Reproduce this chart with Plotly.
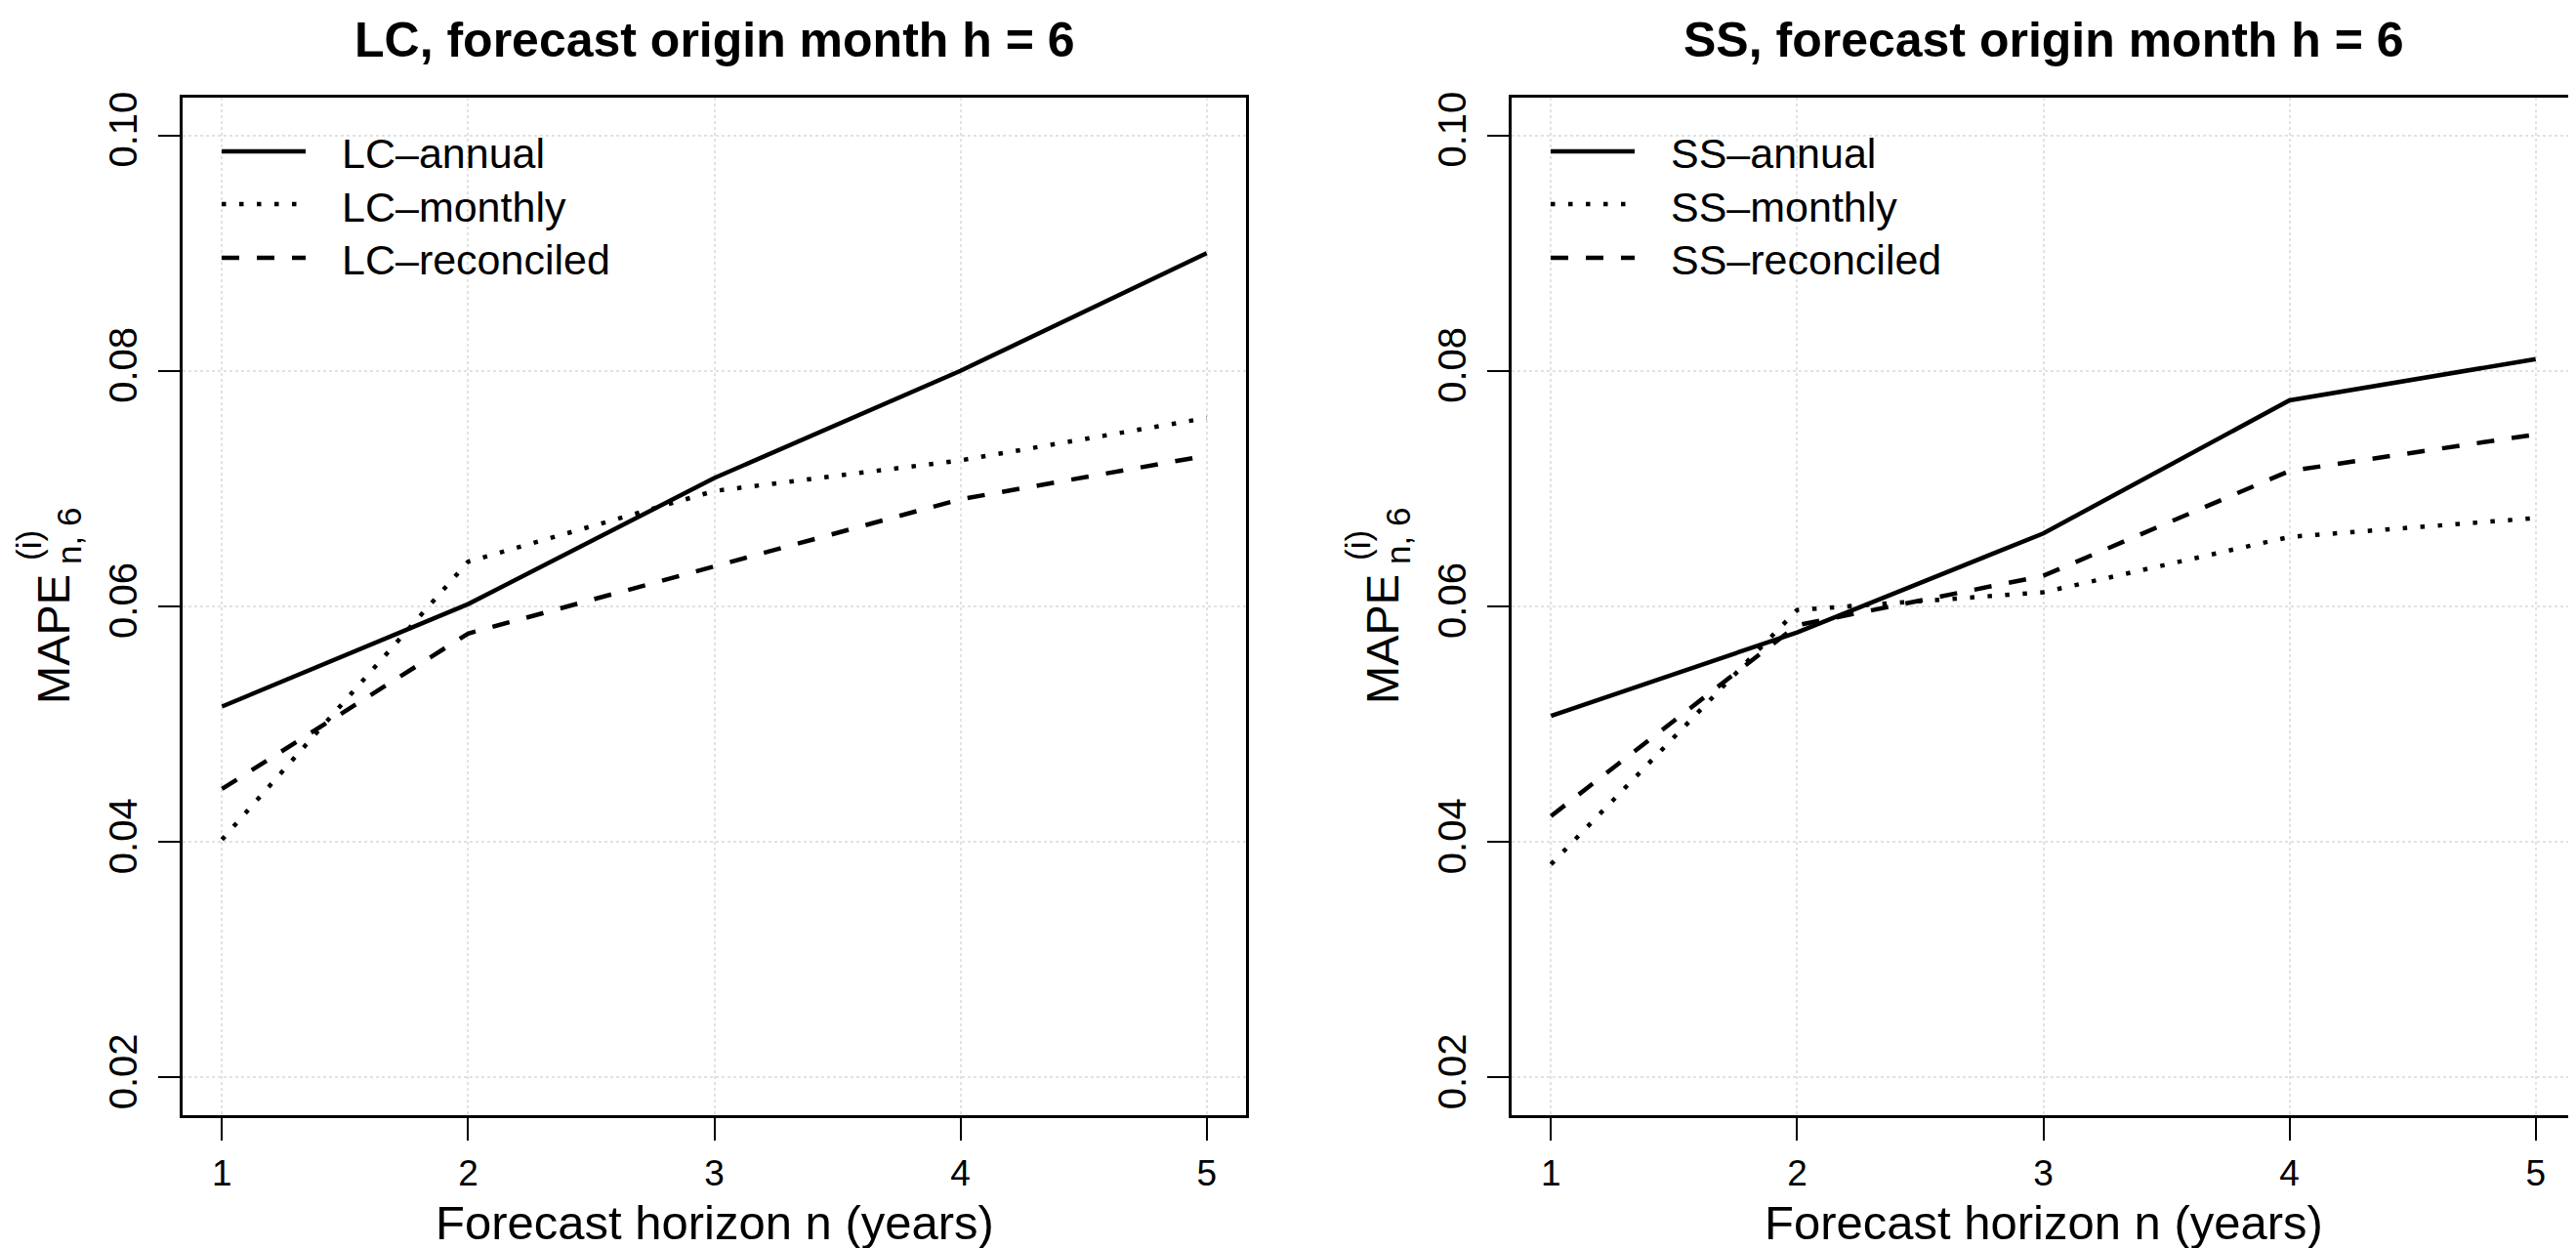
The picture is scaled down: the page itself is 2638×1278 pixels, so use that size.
import plotly.graph_objects as go

# ---------------- data ----------------
horizon = [1, 2, 3, 4, 5]

lc_annual = [0.0515, 0.0602, 0.0709, 0.0800, 0.0900]
lc_monthly = [0.0402, 0.0638, 0.0698, 0.0724, 0.0760]
lc_reconciled = [0.0445, 0.0577, 0.0634, 0.0691, 0.0728]

ss_annual = [0.0507, 0.0578, 0.0662, 0.0775, 0.0810]
ss_monthly = [0.0381, 0.0597, 0.0612, 0.0659, 0.0675]
ss_reconciled = [0.0422, 0.0584, 0.0626, 0.0715, 0.0746]

lc_names = ["LC\u2013annual", "LC\u2013monthly", "LC\u2013reconciled"]
ss_names = ["SS\u2013annual", "SS\u2013monthly", "SS\u2013reconciled"]
panel_titles = ["LC, forecast origin month h = 6", "SS, forecast origin month h = 6"]
x_title = "Forecast horizon n (years)"
y_title_main = "MAPE"
y_title_sup = "(i)"
y_title_sub = "n, 6"
x_ticks = [1, 2, 3, 4, 5]
y_ticks = [0.02, 0.04, 0.06, 0.08, 0.10]

# ---------------- layout helpers ----------------
W, H = 2638, 1278
FONT = "Liberation Sans, Arial, Helvetica, sans-serif"


def px(x):
    return x / W


def py(y):
    return 1 - y / H


dashes = ["solid", "4.5px,13.5px", "18px,18px"]
LW = 4.5

panels = [
    dict(names=lc_names, series=[lc_annual, lc_monthly, lc_reconciled], left=179, right=1268, xa="x", ya="y"),
    dict(names=ss_names, series=[ss_annual, ss_monthly, ss_reconciled], left=1540, right=2629, xa="x2", ya="y2"),
]
TOP, BOTTOM = 92, 1134

fig = go.Figure()
for p in panels:
    for name, vals, dash in zip(p["names"], p["series"], dashes):
        fig.add_trace(go.Scatter(
            x=horizon, y=vals, mode="lines", name=name,
            line=dict(color="black", width=LW, dash=dash),
            xaxis=p["xa"], yaxis=p["ya"], showlegend=False,
            hoverinfo="skip",
        ))

axis_common = dict(
    showline=True, linecolor="black", linewidth=2.5, mirror=True,
    ticks="outside", tickwidth=2, tickcolor="black",
    showgrid=True, gridcolor="#e2e2e2", griddash="dot", gridwidth=1.5,
    zeroline=False, color="black",
)

layout_axes = {}
for i, p in enumerate(panels):
    sfx = "" if i == 0 else "2"
    layout_axes["xaxis" + sfx] = dict(
        axis_common,
        domain=[px(p["left"]), px(p["right"])],
        range=[0.84, 5.16], tickvals=x_ticks, ticklen=23,
        tickfont=dict(family=FONT, size=37, color="black"),
        anchor="y" + sfx, ticklabelstandoff=2,
    )
    layout_axes["yaxis" + sfx] = dict(
        axis_common,
        domain=[py(BOTTOM), py(TOP)],
        range=[0.0168, 0.1032], tickvals=y_ticks, tickformat=".2f",
        tickangle=-90, ticklen=22,
        tickfont=dict(family=FONT, size=40, color="black"),
        anchor="x" + sfx, ticklabelstandoff=6,
    )

annotations = []
shapes = []
legend_rows = [147, 201, 256]
legend_text_y = [149, 204, 258]
for i, p in enumerate(panels):
    off = p["left"] - 179
    cx = (p["left"] + p["right"]) / 2
    # panel title
    annotations.append(dict(
        text="<b>" + panel_titles[i] + "</b>", x=px(cx), y=py(33),
        xref="paper", yref="paper", xanchor="center", yanchor="middle",
        showarrow=False, font=dict(family=FONT, size=50, color="black"),
    ))
    # x axis title
    annotations.append(dict(
        text=x_title, x=px(cx), y=py(1244),
        xref="paper", yref="paper", xanchor="center", yanchor="middle",
        showarrow=False, font=dict(family=FONT, size=49, color="black"),
    ))
    # y axis title (stacked super/subscript)
    annotations.append(dict(
        text=y_title_main, x=px(46 + off), y=py(647), textangle=-90,
        xref="paper", yref="paper", xanchor="center", yanchor="middle",
        showarrow=False, font=dict(family=FONT, size=47, color="black"),
    ))
    annotations.append(dict(
        text=y_title_sup, x=px(21 + off), y=py(551), textangle=-90,
        xref="paper", yref="paper", xanchor="center", yanchor="middle",
        showarrow=False, font=dict(family=FONT, size=35, color="black"),
    ))
    annotations.append(dict(
        text=y_title_sub, x=px(62 + off), y=py(541), textangle=-90,
        xref="paper", yref="paper", xanchor="center", yanchor="middle",
        showarrow=False, font=dict(family=FONT, size=35, color="black"),
    ))
    # legend
    for name, dash, ry, ty in zip(p["names"], dashes, legend_rows, legend_text_y):
        shapes.append(dict(
            type="line", xref="paper", yref="paper",
            x0=px(219 + off), x1=px(305 + off), y0=py(ry), y1=py(ry),
            line=dict(color="black", width=LW, dash=dash),
        ))
        annotations.append(dict(
            text=name, x=px(340 + off), y=py(ty),
            xref="paper", yref="paper", xanchor="left", yanchor="middle",
            showarrow=False, font=dict(family=FONT, size=43, color="black"),
        ))

fig.update_layout(
    width=W, height=H,
    margin=dict(l=0, r=0, t=0, b=0, autoexpand=False),
    paper_bgcolor="white", plot_bgcolor="white",
    font=dict(family=FONT, color="black"),
    annotations=annotations, shapes=shapes,
    showlegend=False,
    **layout_axes,
)

fig.write_html("out.html")
